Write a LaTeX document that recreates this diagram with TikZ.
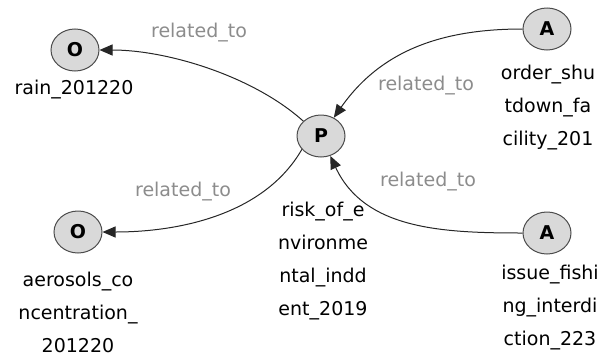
\documentclass[tikz,border=0pt]{standalone}
\usepackage{fontspec}
\setmainfont{DejaVu Sans}
\usetikzlibrary{arrows.meta,shapes.geometric}

\begin{document}
\begin{tikzpicture}[x=1pt,y=-1pt,
  ent/.style={ellipse, draw=black!70, fill=black!15, line width=1pt,
    minimum width=48pt, minimum height=42pt, inner sep=0pt,
    font=\fontsize{19}{20}\selectfont\bfseries},
  entname/.style={align=center, font=\fontsize{19}{33}\selectfont},
  rel/.style={text=black!45, font=\fontsize{19}{22}\selectfont},
  link/.style={draw=black!85, line width=1pt, -{Triangle[length=13pt,width=11pt]}}]
  \useasboundingbox (0,0) rectangle (601,359);

  % entities
  \node[ent] (o1) at (75, 50) {O};
  \node[ent] (p) at (321, 136) {P};
  \node[ent] (a1) at (547, 29) {A};
  \node[ent] (a2) at (547, 233) {A};
  \node[ent] (o2) at (78, 232) {O};

  % names under the entities
  \node[entname] (o1name) at (74, 90) {rain\_201220};
  \node[entname] (pname) at (323, 261) {risk\_of\_e\\nvironme\\ntal\_indd\\ent\_2019};
  \node[entname] (a1name) at (548, 108) {order\_shu\\tdown\_fa\\cility\_201};
  \node[entname] (a2name) at (550, 308) {issue\_fishi\\ng\_interdi\\ction\_223};
  \node[entname] (o2name) at (78, 312) {aerosols\_co\\ncentration\_\\201220};

  % relations
  \draw[link] (p.140) to[out=138, in=0, looseness=0.8] (o1);
  \draw[link] (p.215) to[out=240, in=0, looseness=0.9] (o2);
  \draw[link] (a1) to[out=180, in=55] (p);
  \draw[link] (a2) to[out=180, in=-65] (p);

  \node[rel] (r1) at (199, 33) {related\_to};
  \node[rel] (r2) at (426, 86) {related\_to};
  \node[rel] (r3) at (428, 182) {related\_to};
  \node[rel] (r4) at (183, 192) {related\_to};
\end{tikzpicture}
\end{document}
